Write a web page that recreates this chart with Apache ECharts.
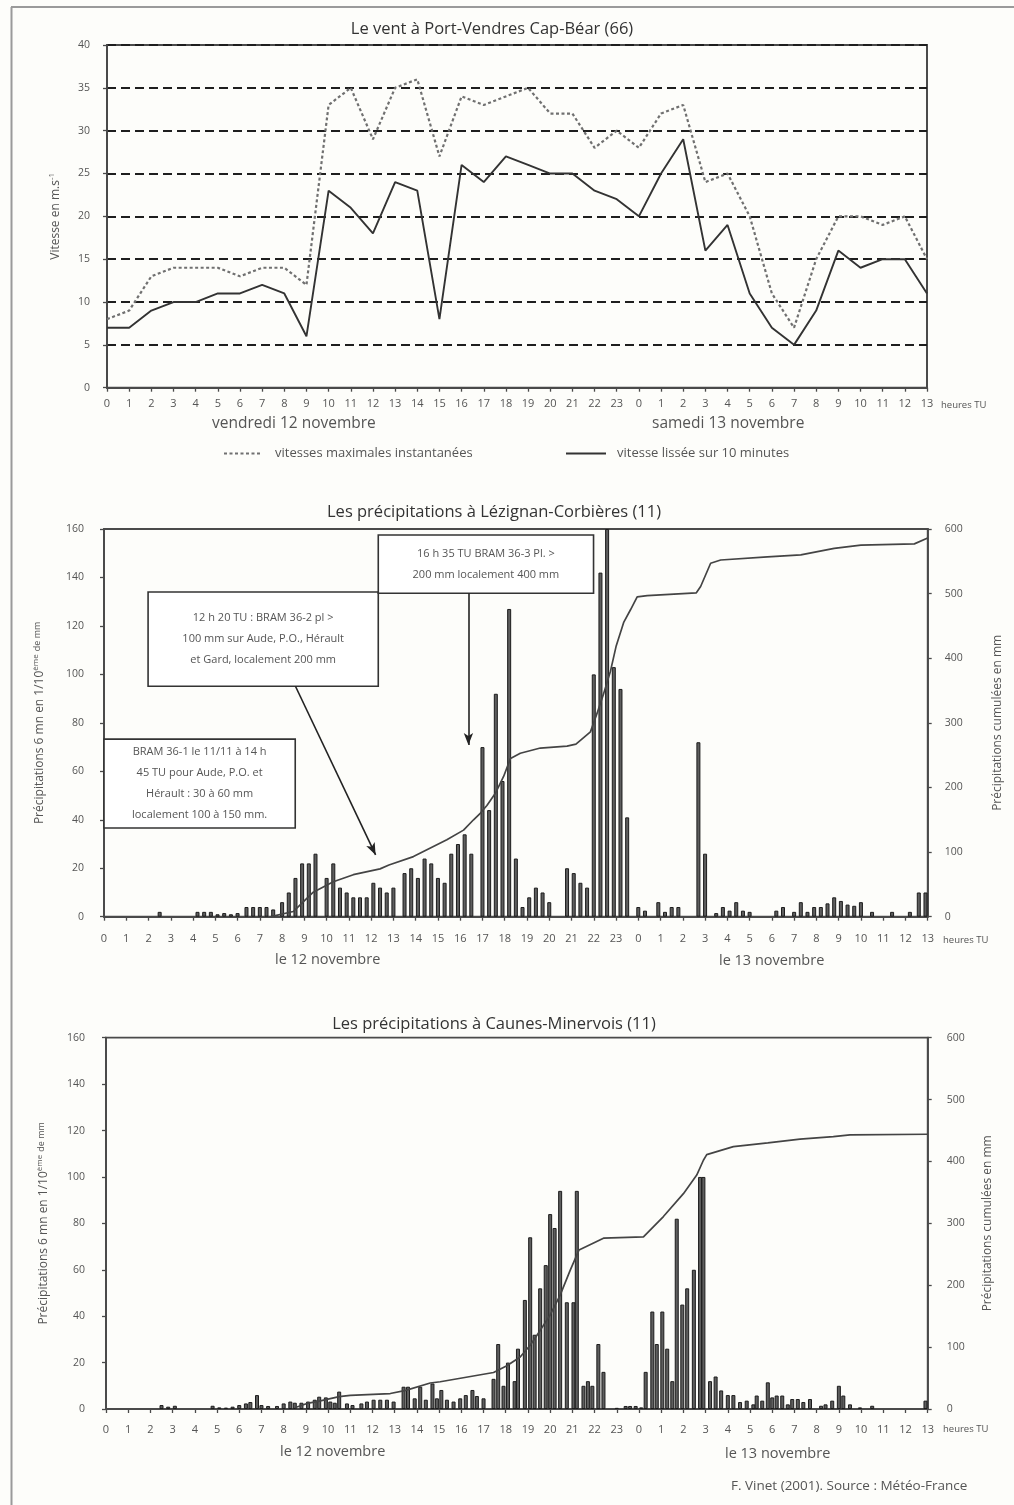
<!DOCTYPE html>
<html>
<head>
<meta charset="utf-8">
<title>Tempête des 12 et 13 novembre 1999</title>
<script src="https://cdn.jsdelivr.net/npm/echarts@6/dist/echarts.min.js"></script>
<style>
  html, body { margin: 0; padding: 0; background: #fdfdfa; }
  #chart { width: 1014px; height: 1505px; }
</style>
</head>
<body>
<div id="chart"></div>
<script>
// ---- Hour ticks: 0..23 on the 12th, then 0..13 on the 13th (axis runs 0..37 h)
const hourTickLabels = [0,1,2,3,4,5,6,7,8,9,10,11,12,13,14,15,16,17,18,19,20,21,22,23,
                        0,1,2,3,4,5,6,7,8,9,10,11,12,13];

// ---- Wind at Port-Vendres Cap-Béar, hourly (m/s)
const windSmoothed = [7,7,9,10,10,11,11,12,11,6,23,21,18,24,23,8,26,24,27,26,
                      25,25,23,22,20,25,29,16,19,11,7,5,9,16,14,15,15,11];
const windGusts    = [8,9,13,14,14,14,13,14,14,12,33,35,29,35,36,27,34,33,34,35,
                      32,32,28,30,28,32,33,24,25,20,11,7,15,20,20,19,20,15];

// ---- Lézignan-Corbières: 6-min rain [hour since 12 Nov 0h, 1/10 mm]
const lezignanRain = [
  [2.5,2],
  [4.2,2],[4.5,2],[4.8,2],[5.1,1],[5.4,1.5],[5.7,1],[6.0,1.5],
  [6.4,4],[6.7,4],[7.0,4],[7.3,4],[7.6,3],
  [8.0,6],[8.3,10],[8.6,16],[8.9,22],[9.2,22],[9.5,26],
  [10.0,16],[10.3,22],[10.6,12],[10.9,10],[11.2,8],[11.5,8],[11.8,8],[12.1,14],[12.4,12],[12.7,10],[13.0,12],
  [13.5,18],[13.8,20],[14.1,16],[14.4,24],[14.7,22],[15.0,16],[15.3,14],[15.6,26],[15.9,30],[16.2,34],[16.5,26],
  [17.0,70],[17.3,44],[17.6,92],[17.9,56],[18.2,127],[18.5,24],[18.8,4],[19.1,8],[19.4,12],[19.7,10],[20.0,6],
  [20.8,20],[21.1,18],[21.4,14],[21.7,12],[22.0,100],[22.3,142],[22.6,160],[22.9,103],[23.2,94],[23.5,41],
  [24.0,4],[24.3,2.5],[24.9,6],[25.2,2],[25.5,4],[25.8,4],
  [26.7,72],[27.0,26],[27.5,1.5],[27.8,4],[28.1,2.5],[28.4,6],[28.7,2.5],[29.0,2],
  [30.2,2.5],[30.5,4],[31.0,2],[31.3,6],[31.6,2],[31.9,4],[32.2,4],[32.5,5.5],[32.8,8],[33.1,6.5],
  [33.4,5],[33.7,4.5],[34.0,6],[34.5,2],[35.4,2],[36.2,2],[36.6,10],[36.9,10]
];
// cumulative rain (mm)
const lezignanCumul = [
  [7.5,0],[8.5,8],[8.8,18],[9.4,38],[10.3,54],[11.2,65],[12.4,74],[12.8,80],[13.9,93],[15.4,119],
  [16.15,134],[16.6,150],[16.9,160],[17.2,172],[17.58,191],[17.95,217],[18.26,245],[18.7,253],
  [19.6,261],[20.8,264],[21.2,267],[21.85,286],[22.15,315],[22.45,346],[22.75,380],[23.0,418],
  [23.35,456],[23.65,475],[23.95,495],[24.4,497],[26.6,501],[26.8,511],[27.25,547],[27.7,552],
  [29.8,557],[31.3,560],[32.8,570],[34.0,575],[36.4,577],[37,586]
];

// ---- Caunes-Minervois: 6-min rain [hour, 1/10 mm]
const caunesRain = [
  [2.5,1.7],[2.8,1],[3.1,1.4],
  [4.8,1.4],[5.1,0.7],[5.4,0.6],[5.7,1],[6.0,1.7],[6.3,2.4],[6.5,3],[6.8,6],
  [7.0,1.7],[7.3,1.3],[7.7,1.3],[8.0,2.4],[8.3,3.2],[8.5,2.7],[8.8,2.7],[9.1,3.2],[9.4,4],[9.6,5.3],
  [9.9,5],[10.1,3.2],[10.3,2.7],[10.5,7.5],[10.85,2.4],[11.1,1.7],[11.5,2.4],[11.75,3.2],[12.05,4],
  [12.35,4],[12.65,4],[12.95,3.2],[13.4,9.6],[13.6,9.6],[13.9,4.6],[14.15,9.6],[14.4,4],[14.7,11],
  [14.9,4.6],[15.1,8.2],[15.35,4],[15.65,3.2],[15.95,4.6],[16.2,6],[16.5,8.2],[16.7,5.6],[17.0,4.6],
  [17.45,13],[17.66,28],[17.9,10],[18.1,20],[18.4,12],[18.55,26],[18.86,47],[19.1,74],[19.3,32],
  [19.55,52],[19.8,62],[20.0,84],[20.2,78],[20.45,94],[20.75,46],[21.05,46],[21.2,94],[21.5,10],
  [21.7,12],[21.9,10],[22.17,28],[22.4,16],
  [23.0,0.5],[23.4,1.3],[23.6,1.3],[23.85,1.3],[24.1,0.7],
  [24.3,16],[24.6,42],[24.8,28],[25.05,42],[25.27,26],[25.5,12],[25.7,82],[25.95,45],[26.17,52],
  [26.47,60],[26.75,100],[26.9,100],[27.2,12],[27.45,14],[27.7,8],[28.0,6],[28.25,6],[28.55,3],
  [28.85,3.6],[29.15,2],[29.3,5.8],[29.55,3.6],[29.8,11.5],[30.0,5],[30.2,5.8],[30.45,5.8],[30.7,2],
  [30.9,4.3],[31.15,4.3],[31.4,3],[31.7,4.3],[32.2,1.4],[32.4,2],[32.7,3.6],[33.0,10],[33.2,5.8],
  [33.5,2],[33.95,0.7],[34.5,1.4],[36.9,3.6]
];
const caunesCumul = [
  [8.5,2],[9.05,9],[9.5,12],[10.5,20],[11,22],[12.8,25],[13.5,30],[14.6,42],[15.05,44],[17.45,59],
  [18.05,70],[18.65,84],[19.1,103],[19.55,127],[20.0,152],[20.45,184],[20.9,224],[21.3,257],
  [22.4,276],[24.2,278],[25.1,311],[26.0,348],[26.6,378],[26.9,402],[27.05,411],[28.25,424],
  [29.8,430],[31.25,436],[32.75,440],[33.5,443],[37,444]
];

// ---- Axis tick values
const windTicks = { min: 0, max: 40, step: 5 };
const rainTicks = { min: 0, max: 160, step: 20 };
const cumulTicks = { min: 0, max: 600, step: 100 };

// ---- Forecast bulletins shown over the Lézignan chart
const bulletins = [
  { text: 'BRAM 36-1 le 11/11 à 14 h\n45 TU pour Aude, P.O. et\nHérault : 30 à 60 mm\nlocalement 100 à 150 mm.', from: [0, 73.3], to: [8.59, 36.6] },
  { text: '12 h 20 TU : BRAM 36-2 pl >\n100 mm sur Aude, P.O., Hérault\net Gard, localement 200 mm', from: [1.98, 134], to: [12.32, 95.1] },
  { text: '16 h 35 TU BRAM 36-3 Pl. >\n200 mm localement 400 mm', from: [12.32, 157.5], to: [21.99, 133.5] }
];
const bulletinArrows = [
  [[8.6, 95.1], [12.2, 25.5]],
  [[16.37, 133.5], [16.37, 70.9]]
];

// ---------------------------------------------------------------------------
const FONT = '"Open Sans", "Noto Sans", sans-serif';
const AXIS_COLOR = '#4a4a4a';
const TEXT_COLOR = '#555';

function hourAxis(gridIndex, labelMargin) {
  return {
    gridIndex: gridIndex,
    type: 'value',
    min: 0, max: 37, interval: 1,
    axisLine: { onZero: false, lineStyle: { color: AXIS_COLOR, width: 1.8 } },
    axisTick: { show: true, length: 4, lineStyle: { color: AXIS_COLOR, width: 1.3 } },
    axisLabel: {
      margin: labelMargin, color: TEXT_COLOR, fontFamily: FONT, fontSize: 11,
      showMinLabel: true, showMaxLabel: true,
      formatter: v => String(hourTickLabels[Math.round(v)])
    },
    splitLine: { show: false }
  };
}

function valueAxis(gridIndex, ticks, position, margin, name, nameGap, extra) {
  return Object.assign({
    gridIndex: gridIndex,
    type: 'value',
    position: position,
    min: ticks.min, max: ticks.max, interval: ticks.step,
    axisLine: { show: true, onZero: false, lineStyle: { color: AXIS_COLOR, width: 1.8 } },
    axisTick: { show: true, length: 4, lineStyle: { color: AXIS_COLOR, width: 1.3 } },
    axisLabel: { margin: margin, color: TEXT_COLOR, fontFamily: FONT, fontSize: 10.5 },
    splitLine: { show: false },
    name: name,
    nameLocation: 'middle',
    nameGap: nameGap,
    nameRotate: 90,
    nameTextStyle: {
      color: TEXT_COLOR, fontFamily: FONT, fontSize: 12,
      rich: {
        sup: { fontSize: 8, color: TEXT_COLOR, fontFamily: FONT, padding: [0, 0, 7, 0] },
        small: { fontSize: 9, color: TEXT_COLOR, fontFamily: FONT, padding: [0, 0, 4, 0] }
      }
    }
  }, extra || {});
}

const barStyle = { color: '#5e5e5e', borderColor: '#1c1c1c', borderWidth: 1 };
const titleStyle = { fontFamily: FONT, fontSize: 16.5, fontWeight: 'normal', color: '#333' };

const option = {
  animation: false,
  backgroundColor: '#fdfdfa',
  textStyle: { fontFamily: FONT },
  title: [
    { text: 'Le vent à Port-Vendres Cap-Béar (66)', left: 487, top: 16, textAlign: 'center', textStyle: titleStyle },
    { text: 'Les précipitations à Lézignan-Corbières (11)', left: 489, top: 499, textAlign: 'center', textStyle: titleStyle },
    { text: 'Les précipitations à Caunes-Minervois (11)', left: 489, top: 1011, textAlign: 'center', textStyle: titleStyle }
  ],
  legend: [
    { data: ['vitesses maximales instantanées'], left: 218, top: 442, itemWidth: 38, itemHeight: 10,
      itemStyle: { opacity: 0 },
      textStyle: { color: TEXT_COLOR, fontFamily: FONT, fontSize: 13, padding: [0, 0, 0, 8] } },
    { data: ['vitesse lissée sur 10 minutes'], left: 560, top: 442, itemWidth: 40, itemHeight: 10,
      itemStyle: { opacity: 0 },
      textStyle: { color: TEXT_COLOR, fontFamily: FONT, fontSize: 13, padding: [0, 0, 0, 6] } }
  ],
  grid: [
    { left: 107, top: 45, width: 820, height: 342.7, show: true, borderColor: AXIS_COLOR, borderWidth: 2, backgroundColor: 'transparent' },
    { left: 104, top: 529, width: 823.7, height: 387.7, show: true, borderColor: AXIS_COLOR, borderWidth: 1.8, backgroundColor: 'transparent' },
    { left: 106, top: 1037.7, width: 821.7, height: 371.3, show: true, borderColor: AXIS_COLOR, borderWidth: 1.8, backgroundColor: 'transparent' }
  ],
  xAxis: [hourAxis(0, 11), hourAxis(1, 17), hourAxis(2, 15)],
  yAxis: [
    valueAxis(0, windTicks, 'left', 17, 'Vitesse en m.s{sup|-1}', 44, {
      splitLine: { show: true, lineStyle: { color: '#1e1e1e', width: 1.8, type: [9, 5] } }
    }),
    valueAxis(1, rainTicks, 'left', 20, 'Précipitations 6 mn en 1/10{sup|ème} {small|de mm}', 57),
    valueAxis(1, cumulTicks, 'right', 17, 'Précipitations cumulées en mm', 64),
    valueAxis(2, rainTicks, 'left', 21, 'Précipitations 6 mn en 1/10{sup|ème} {small|de mm}', 55),
    valueAxis(2, cumulTicks, 'right', 19, 'Précipitations cumulées en mm', 54)
  ],
  series: [
    {
      name: 'vitesses maximales instantanées', type: 'line', xAxisIndex: 0, yAxisIndex: 0,
      data: windGusts.map((v, i) => [i, v]), symbol: 'none',
      lineStyle: { color: '#707070', width: 2.2, type: [3, 2.5] }, itemStyle: { color: '#707070' }, z: 3
    },
    {
      name: 'vitesse lissée sur 10 minutes', type: 'line', xAxisIndex: 0, yAxisIndex: 0,
      data: windSmoothed.map((v, i) => [i, v]), symbol: 'none',
      lineStyle: { color: '#333', width: 1.9 }, itemStyle: { color: '#333' }, z: 4
    },
    {
      name: 'Lézignan 6 mn', type: 'bar', xAxisIndex: 1, yAxisIndex: 1,
      data: lezignanRain, barWidth: 4, itemStyle: barStyle, z: 3,
      markArea: {
        silent: true, z: 1,
        itemStyle: { color: '#ffffff', borderColor: '#333', borderWidth: 1.6 },
        label: { show: true, position: 'inside', color: '#555', fontFamily: FONT, fontSize: 11, lineHeight: 21 },
        data: bulletins.map(b => [{ name: b.text, coord: b.from }, { coord: b.to }])
      },
      markLine: {
        silent: true, symbol: ['none', 'arrow'], symbolSize: [7, 12],
        lineStyle: { color: '#222', width: 1.6, type: 'solid' },
        label: { show: false },
        data: bulletinArrows.map(a => [{ coord: a[0] }, { coord: a[1] }])
      }
    },
    {
      name: 'Lézignan cumul', type: 'line', xAxisIndex: 1, yAxisIndex: 2,
      data: lezignanCumul, symbol: 'none',
      lineStyle: { color: '#444', width: 1.7 }, z: 4
    },
    {
      name: 'Caunes 6 mn', type: 'bar', xAxisIndex: 2, yAxisIndex: 3,
      data: caunesRain, barWidth: 4, itemStyle: barStyle, z: 3
    },
    {
      name: 'Caunes cumul', type: 'line', xAxisIndex: 2, yAxisIndex: 4,
      data: caunesCumul, symbol: 'none',
      lineStyle: { color: '#444', width: 1.7 }, z: 4
    }
  ],
  graphic: [
    // page frame
    { type: 'line', shape: { x1: 11.5, y1: 7, x2: 11.5, y2: 1505 }, style: { stroke: '#9a9a9a', lineWidth: 2 } },
    { type: 'line', shape: { x1: 11, y1: 7, x2: 1014, y2: 7 }, style: { stroke: '#9a9a9a', lineWidth: 2 } },
    // day captions and unit
    { type: 'text', left: 212, top: 416, style: { text: 'vendredi 12 novembre', fill: TEXT_COLOR, font: '15.5px ' + FONT } },
    { type: 'text', left: 652, top: 416, style: { text: 'samedi 13 novembre', fill: TEXT_COLOR, font: '15.5px ' + FONT } },
    { type: 'text', left: 941, top: 400, style: { text: 'heures TU', fill: TEXT_COLOR, font: '9.5px ' + FONT } },
    { type: 'text', left: 275, top: 952, style: { text: 'le 12 novembre', fill: TEXT_COLOR, font: '14.5px ' + FONT } },
    { type: 'text', left: 719, top: 953, style: { text: 'le 13 novembre', fill: TEXT_COLOR, font: '14.5px ' + FONT } },
    { type: 'text', left: 943, top: 935, style: { text: 'heures TU', fill: TEXT_COLOR, font: '9.5px ' + FONT } },
    { type: 'text', left: 280, top: 1444, style: { text: 'le 12 novembre', fill: TEXT_COLOR, font: '14.5px ' + FONT } },
    { type: 'text', left: 725, top: 1446, style: { text: 'le 13 novembre', fill: TEXT_COLOR, font: '14.5px ' + FONT } },
    { type: 'text', left: 943, top: 1424, style: { text: 'heures TU', fill: TEXT_COLOR, font: '9.5px ' + FONT } },
    // source
    { type: 'text', left: 731, top: 1479, style: { text: 'F. Vinet (2001). Source : Météo-France', fill: TEXT_COLOR, font: '13.5px ' + FONT } }
  ]
};

const chart = echarts.init(document.getElementById('chart'), null, { renderer: 'canvas' });
chart.setOption(option);
</script>
</body>
</html>
